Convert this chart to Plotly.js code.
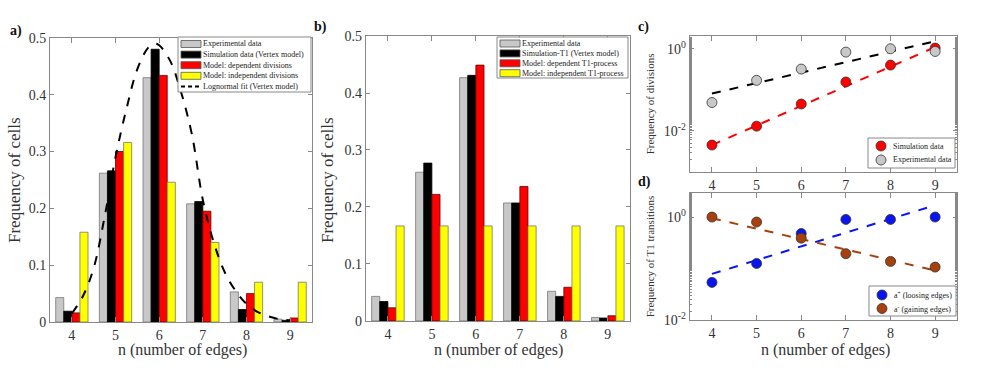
<!DOCTYPE html>
<html>
<head>
<meta charset="utf-8">
<script src="https://cdn.plot.ly/plotly-3.0.1.min.js"></script>
<style>
  html, body { margin: 0; padding: 0; background: #fff; }
  #chart { width: 981px; height: 368px; }
</style>
</head>
<body>
<div id="chart"></div>
<script>
// n = number of edges
const edges = [4, 5, 6, 7, 8, 9];

// panel a) - divisions
const expA = [0.043, 0.262, 0.430, 0.208, 0.053, 0.005];
const simA = [0.019, 0.266, 0.480, 0.212, 0.022, 0.003];
const depA = [0.016, 0.300, 0.434, 0.195, 0.050, 0.007];
const indA = [0.158, 0.316, 0.246, 0.140, 0.070, 0.070];

// lognormal fit
const lognX = [4, 4.25, 4.5, 4.75, 5, 5.25, 5.5, 5.75, 5.9, 6, 6.25, 6.5, 6.75, 7, 7.25, 7.5, 7.75, 8, 8.25, 8.5, 8.75, 9];
const lognY = [0.015, 0.045, 0.095, 0.185, 0.29, 0.375, 0.445, 0.483, 0.49, 0.487, 0.46, 0.405, 0.33, 0.215, 0.14, 0.088, 0.055, 0.032, 0.018, 0.01, 0.005, 0.003];

// panel b) - T1 process
const expB = [0.043, 0.261, 0.427, 0.207, 0.052, 0.006];
const simB = [0.034, 0.277, 0.431, 0.207, 0.043, 0.005];
const depB = [0.023, 0.222, 0.449, 0.236, 0.059, 0.009];
const indB = [0.1667, 0.1667, 0.1667, 0.1667, 0.1667, 0.1667];

// panel c) - frequency of divisions (log)
const divSim = [0.0045, 0.013, 0.045, 0.155, 0.40, 1.04];
const divExp = [0.049, 0.17, 0.32, 0.83, 1.0, 0.86];
const fitX = [4, 9];
const divSimFit = [0.0045, 1.1];
const divExpFit = [0.081, 1.53];

// panel d) - T1 transitions (log)
const aPlus = [0.054, 0.126, 0.48, 0.90, 0.90, 1.0];
const aMinus = [1.0, 0.80, 0.39, 0.195, 0.138, 0.107];
const aPlusFit = [0.079, 1.7];
const aMinusFit = [0.95, 0.092];

const serif = "Liberation Serif";
const txt = "#333";
const grey = "#c8c8c8", red = "#ff0000", yellow = "#ffff00";
const blue = "#0a14f0", brown = "#a8400c";

function bar(x, y, color, line, xa, ya) {
    return {
        type: "bar", x: x, y: y, xaxis: xa, yaxis: ya, showlegend: false,
        marker: { color: color, line: { color: line, width: 0.8 } }
    };
}
function dots(x, y, color, xa, ya) {
    return { x: x, y: y, mode: "markers", xaxis: xa, yaxis: ya, showlegend: false,
             marker: { color: color, size: 10, line: { color: "#333", width: 0.8 } } };
}
function fit(x, y, color, xa, ya) {
    return { x: x, y: y, mode: "lines", xaxis: xa, yaxis: ya, showlegend: false,
             line: { color: color, width: 2, dash: "dash" } };
}

const data = [
    bar(edges, expA, grey, "#777", "x", "y"),
    bar(edges, simA, "#000", "#000", "x", "y"),
    bar(edges, depA, red, "#600", "x", "y"),
    bar(edges, indA, yellow, "#776", "x", "y"),
    { x: lognX, y: lognY, mode: "lines", xaxis: "x", yaxis: "y", showlegend: false,
      line: { color: "#000", width: 2, dash: "dash", shape: "spline" } },
    bar(edges, expB, grey, "#777", "x2", "y2"),
    bar(edges, simB, "#000", "#000", "x2", "y2"),
    bar(edges, depB, red, "#600", "x2", "y2"),
    bar(edges, indB, yellow, "#776", "x2", "y2"),
    fit(fitX, divSimFit, red, "x3", "y3"),
    fit(fitX, divExpFit, "#000", "x3", "y3"),
    dots(edges, divSim, red, "x3", "y3"),
    dots(edges, divExp, grey, "x3", "y3"),
    fit(fitX, aPlusFit, blue, "x4", "y4"),
    fit(fitX, aMinusFit, brown, "x4", "y4"),
    dots(edges, aPlus, blue, "x4", "y4"),
    dots(edges, aMinus, brown, "x4", "y4")
];

// hand-made legends (plotly legend rows are too tall for these boxes)
const W = 981, H = 368;
const px = v => v / W, py = v => 1 - v / H;
const shapes = [], annotations = [];

function legend(box, rows, items) {
    shapes.push({ type: "rect", xref: "paper", yref: "paper", x0: px(box[0]), x1: px(box[1]),
                  y0: py(box[2]), y1: py(box[3]), fillcolor: "#fff", line: { color: "#888", width: 1 } });
    items.forEach((it, i) => {
        const y = rows[0] + i * rows[1];
        if (it.kind === "bar") {
            shapes.push({ type: "rect", xref: "paper", yref: "paper", x0: px(box[0] + 3), x1: px(box[0] + 23),
                          y0: py(y - 3.5), y1: py(y + 3.5), fillcolor: it.color, line: { color: "#555", width: 0.8 } });
        } else if (it.kind === "line") {
            shapes.push({ type: "line", xref: "paper", yref: "paper", x0: px(box[0] + 3), x1: px(box[0] + 23),
                          y0: py(y), y1: py(y), line: { color: it.color, width: 2, dash: "4px,3px" } });
        } else {
            shapes.push({ type: "circle", xref: "paper", yref: "paper", x0: px(box[0] + 8), x1: px(box[0] + 18),
                          y0: py(y - 5), y1: py(y + 5), fillcolor: it.color, line: { color: "#333", width: 0.8 } });
        }
        annotations.push({ text: it.name, xref: "paper", yref: "paper", x: px(box[0] + 23),
                           y: py(y), xanchor: "left", yanchor: "middle", showarrow: false,
                           font: { family: serif, size: 8, color: "#222" } });
    });
}

legend([178, 311, 37, 92], [44, 10.6], [
    { kind: "bar", color: grey, name: "Experimental data" },
    { kind: "bar", color: "#000", name: "Simulation data (Vertex model)" },
    { kind: "bar", color: red, name: "Model: dependent divisions" },
    { kind: "bar", color: yellow, name: "Model: independent divisions" },
    { kind: "line", color: "#000", name: "Lognormal fit (Vertex model)" }
]);
legend([497, 628, 37, 78], [43.5, 9.9], [
    { kind: "bar", color: grey, name: "Experimental data" },
    { kind: "bar", color: "#000", name: "Simulation-T1 (Vertex model)" },
    { kind: "bar", color: red, name: "Model: dependent T1-process" },
    { kind: "bar", color: yellow, name: "Model: independent T1-process" }
]);
legend([868, 955, 138, 168], [146, 14], [
    { kind: "dot", color: red, name: "Simulation data" },
    { kind: "dot", color: grey, name: "Experimental data" }
]);
legend([869, 956, 286, 316], [295, 13.5], [
    { kind: "dot", color: blue, name: "a<sup>+</sup> (loosing edges)" },
    { kind: "dot", color: brown, name: "a<sup>-</sup> (gaining edges)" }
]);

// panel letters
[["a)", 8, 31], ["b)", 312, 27], ["c)", 636, 27], ["d)", 636, 182]].forEach(l => {
    annotations.push({ text: "<b>" + l[0] + "</b>", xref: "paper", yref: "paper", x: px(l[1]), y: py(l[2]),
                       xanchor: "left", yanchor: "middle", showarrow: false,
                       font: { family: serif, size: 14, color: "#111" } });
});

// axis titles placed by hand
[[182, 350, 0], [498, 350, 0], [825, 350, 0], [15, 180, -90], [328, 180, -90]].forEach((t, i) => {
    annotations.push({ text: i < 3 ? "n (number of edges)" : "Frequency of cells", xref: "paper", yref: "paper",
                       x: px(t[0]), y: py(t[1]), xanchor: "center", yanchor: "middle", textangle: t[2],
                       showarrow: false, font: { family: serif, size: i < 3 ? 16 : 17, color: txt } });
});

const axBase = {
    showline: true, mirror: "ticks", linecolor: "#888", linewidth: 1,
    ticks: "inside", ticklen: 4, tickcolor: "#888",
    showgrid: false, zeroline: false,
    tickfont: { family: serif, size: 14, color: txt }
};

function xAx(domain, anchor) {
    return Object.assign({}, axBase, {
        domain: domain, anchor: anchor, range: [3.5, 9.5],
        tickvals: edges, ticklen: 5
    });
}

const linY = Object.assign({}, axBase, {
    range: [0, 0.5], tickvals: [0, 0.1, 0.2, 0.3, 0.4, 0.5],
    ticktext: ["0", "0.1", "0.2", "0.3", "0.4", "0.5"]
});

const layout = {
    width: 981, height: 368,
    margin: { l: 0, r: 0, t: 0, b: 0 },
    paper_bgcolor: "#fff", plot_bgcolor: "#fff",
    font: { family: serif, color: txt },
    barmode: "group", bargap: 0.26, bargroupgap: 0,
    showlegend: false,

    xaxis: xAx([0.051, 0.318], "y"),
    yaxis: Object.assign({}, linY, { domain: [0.125, 0.897], anchor: "x" }),
    xaxis2: xAx([0.373, 0.642], "y2"),
    yaxis2: Object.assign({}, linY, { domain: [0.128, 0.902], anchor: "x2" }),
    xaxis3: xAx([0.703, 0.976], "y3"),
    yaxis3: Object.assign({}, axBase, {
        domain: [0.533, 0.902], anchor: "x3", type: "log", range: [-3, 0.31],
        tickvals: [0.01, 1], ticktext: ["10<sup>-2</sup>", "10<sup>0</sup>"],
        minor: { ticks: "inside", ticklen: 2, tickcolor: "#888" },
        title: { text: "Frequency of divisions", font: { family: serif, size: 11, color: txt }, standoff: 6 }
    }),
    xaxis4: xAx([0.703, 0.976], "y4"),
    yaxis4: Object.assign({}, axBase, {
        domain: [0.130, 0.476], anchor: "x4", type: "log", range: [-2, 0.47],
        tickvals: [0.01, 1], ticktext: ["10<sup>-2</sup>", "10<sup>0</sup>"],
        minor: { ticks: "inside", ticklen: 2, tickcolor: "#888" },
        title: { text: "Frequency of T1 transitions", font: { family: serif, size: 11, color: txt }, standoff: 6 }
    }),

    shapes: shapes,
    annotations: annotations
};

Plotly.newPlot("chart", data, layout, { displayModeBar: false, staticPlot: true });
</script>
</body>
</html>
